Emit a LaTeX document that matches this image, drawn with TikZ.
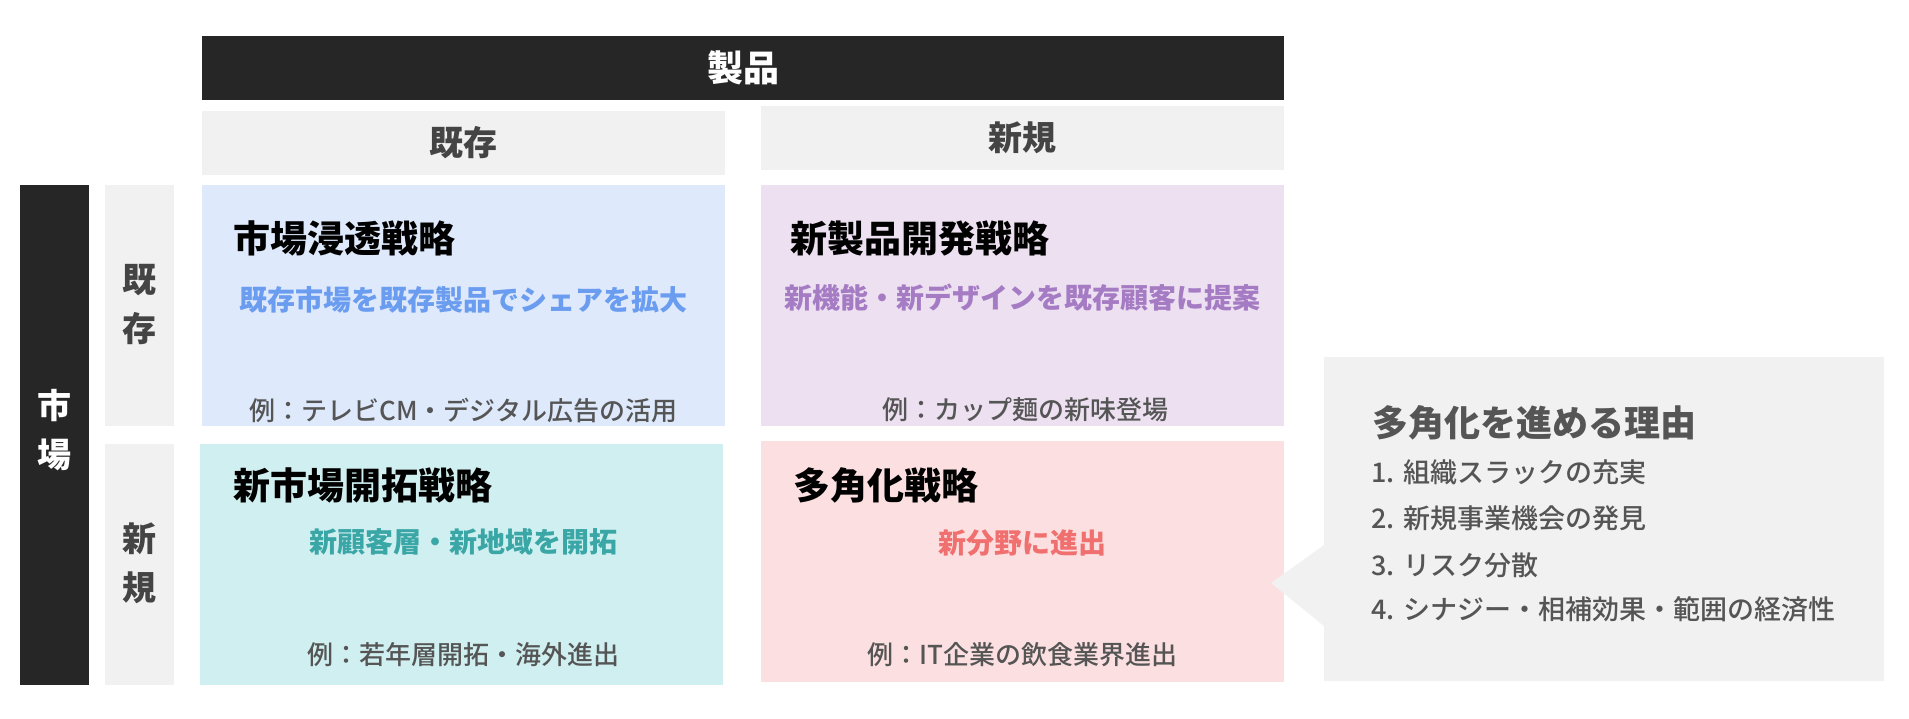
\documentclass[tikz,border=0pt]{standalone}
\usepackage{fontspec}
\setmainfont{Noto Sans CJK JP}
\newfontface\jpmed{Noto Sans CJK JP Medium}
\usepackage{tikz}
\usetikzlibrary{calc}
\definecolor{mydark}{RGB}{38, 38, 38}
\definecolor{mygray}{RGB}{241, 241, 241}
\definecolor{myblue}{RGB}{222, 233, 252}
\definecolor{mypurple}{RGB}{236, 224, 241}
\definecolor{myteal}{RGB}{208, 239, 240}
\definecolor{mypink}{RGB}{252, 224, 225}
\definecolor{txtblue}{RGB}{106, 156, 240}
\definecolor{txtpurple}{RGB}{165, 123, 196}
\definecolor{txtteal}{RGB}{58, 166, 166}
\definecolor{txtpink}{RGB}{240, 112, 112}
\definecolor{txtgray}{RGB}{85, 85, 85}
\definecolor{txthead}{RGB}{68, 68, 68}
\tikzset{
  title/.style = {anchor = west, text = black, font = \fontsize{37}{40}\selectfont\bfseries},
  sub/.style = {font = \fontsize{28}{30}\selectfont\bfseries},
  ex/.style = {text = txtgray, font = \fontsize{26}{30}\selectfont\jpmed},
  head/.style = {text = txthead, font = \fontsize{34}{38}\selectfont\bfseries},
  side/.style = {text = txthead, align = center, font = \fontsize{34}{49}\selectfont\bfseries},
  reason/.style = {anchor = west, text = txtgray, font = \fontsize{27}{30}\selectfont\jpmed}
}

\begin{document}
\begin{tikzpicture}[x = 1pt, y = -1pt]
\useasboundingbox (0,0) rectangle (1909,718);
% headers
\fill[mydark] (202,36) rectangle (1284,100);
\node[text = white, font = \fontsize{36}{38}\selectfont\bfseries] (prod) at (743,68) {製品};
\fill[mygray] (202,111) rectangle (725,175);
\node[head] (prodold) at (463.5,143) {既存};
\fill[mygray] (761,106) rectangle (1284,170);
\node[head] (prodnew) at (1022.5,138) {新規};
\fill[mydark] (20,185) rectangle (89,685);
\node[side, text = white] (mkt) at (54.5,430) {市\\場};
\fill[mygray] (105,185) rectangle (174,426);
\node[side] (mktold) at (139.5,304) {既\\存};
\fill[mygray] (105,444) rectangle (174,685);
\node[side] (mktnew) at (139.5,563) {新\\規};

% market penetration
\fill[myblue] (202,185) rectangle (725,426);
\node[title] (pen) at (230,238) {市場浸透戦略};
\node[sub, text = txtblue] (pensub) at (463.5,300) {既存市場を既存製品でシェアを拡大};
\node[ex] (penex) at (463.5,410) {例：テレビCM・デジタル広告の活用};

% product development
\fill[mypurple] (761,185) rectangle (1284,426);
\node[title] (dev) at (787,238) {新製品開発戦略};
\node[sub, text = txtpurple] (devsub) at (1022.5,298) {新機能・新デザインを既存顧客に提案};
\node[ex] (devex) at (1025,410) {例：カップ麺の新味登場};

% market development
\fill[myteal] (200,444) rectangle (723,685);
\node[title] (mkd) at (230,485) {新市場開拓戦略};
\node[sub, text = txtteal] (mkdsub) at (463,542) {新顧客層・新地域を開拓};
\node[ex] (mkdex) at (463,655) {例：若年層開拓・海外進出};

% diversification
\fill[mypink] (761,441) rectangle (1284,682);
\node[title] (div) at (790,485) {多角化戦略};
\node[sub, text = txtpink] (divsub) at (1022.5,543) {新分野に進出};
\node[ex] (divex) at (1022.5,655) {例：IT企業の飲食業界進出};

% reasons callout
\fill[mygray] (1324,357) -- (1884,357) -- (1884,681) -- (1324,681) -- (1324,626) -- (1271,583) -- (1324,545) -- cycle;
\node[reason, font = \fontsize{36}{40}\selectfont\bfseries] (why) at (1369,423) {多角化を進める理由};
\node[reason] (why1) at (1368,472) {1. 組織スラックの充実};
\node[reason] (why2) at (1368,518) {2. 新規事業機会の発見};
\node[reason] (why3) at (1368,565) {3. リスク分散};
\node[reason] (why4) at (1368,609) {4. シナジー・相補効果・範囲の経済性};
\end{tikzpicture}
\end{document}
